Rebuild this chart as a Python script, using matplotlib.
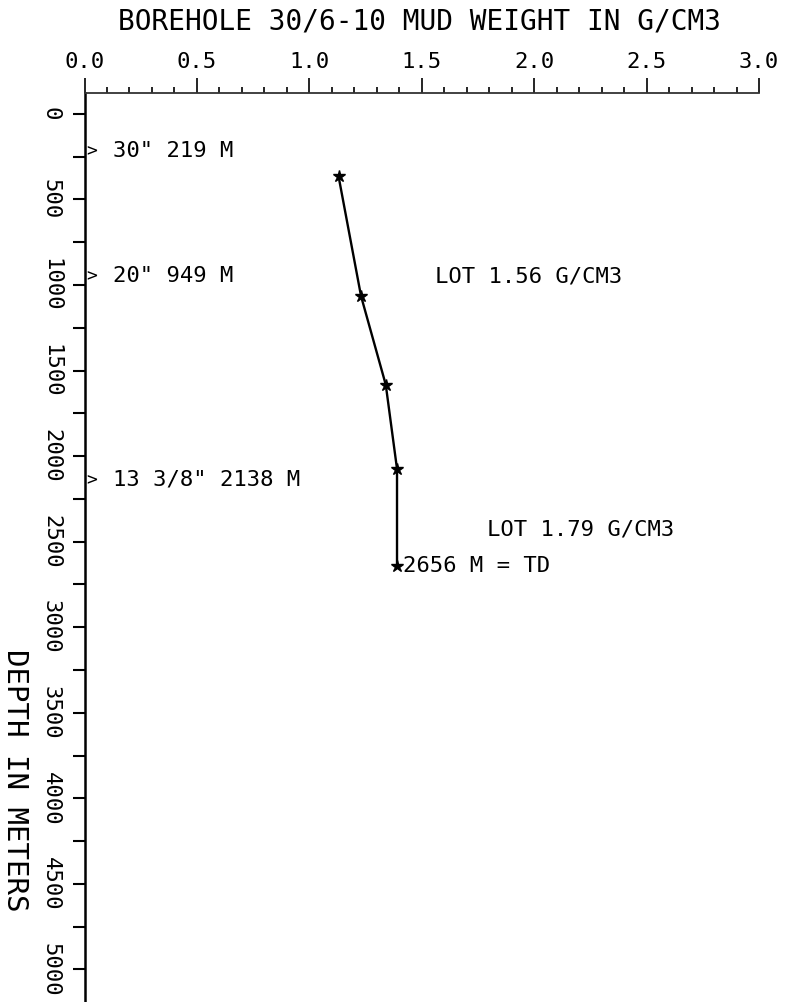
"""
Mud weight vs depth plot for borehole 30/6-10, plotter style.
"""

import matplotlib
matplotlib.use('Agg')
import matplotlib.pyplot as plt
from matplotlib.ticker import MultipleLocator, FormatStrFormatter

# mud weight readings (g/cm3) against depth (m)
mud_weight = [1.13, 1.23, 1.34, 1.39, 1.39]
depth = [365, 1065, 1583, 2075, 2645]

# casing shoes
casing_depth = [219, 949, 2138]
casing_label = ['30" 219 M', '20" 949 M', '13 3/8" 2138 M']

# leak-off tests
lot_weight = [1.56, 1.79]
lot_depth = [949, 2430]
lot_label = ['LOT 1.56 G/CM3', 'LOT 1.79 G/CM3']

td_label = '2656 M = TD'

plt.rcParams['font.family'] = ['DejaVu Sans Mono']

W, H = 787, 1002
fig = plt.figure(figsize=(W / 100, H / 100), dpi=100)
ax = fig.add_axes([84.5 / W, 0, (759 - 84.5) / W, 1 - 93 / H])

ax.set_xlim(0, 3)
ax.set_ylim(5190, -122)

ax.spines['right'].set_visible(False)
ax.spines['bottom'].set_visible(False)
ax.spines['top'].set_linewidth(1.3)
ax.spines['top'].set_color('#333333')
ax.spines['left'].set_linewidth(1.8)

ax.xaxis.tick_top()
ax.xaxis.set_major_locator(MultipleLocator(0.5))
ax.xaxis.set_minor_locator(MultipleLocator(0.1))
ax.xaxis.set_major_formatter(FormatStrFormatter('%.1f'))
ax.tick_params(axis='x', which='major', direction='out', length=11, width=1.2, pad=4, labelsize=16)
ax.tick_params(axis='x', which='minor', direction='out', length=4.5, width=1.2)

ax.yaxis.set_major_locator(MultipleLocator(500))
ax.yaxis.set_minor_locator(MultipleLocator(250))
ax.tick_params(axis='y', which='both', direction='out', length=9, width=1.5)
ax.tick_params(axis='y', which='major', pad=8, labelsize=16, labelrotation=270)
for lab in ax.get_yticklabels():
    lab.set_va('center')

ax.plot(mud_weight, depth, color='black', lw=1.7, marker='*', markersize=9)

# casing shoe markers on the depth axis
for d, lab in zip(casing_depth, casing_label):
    ax.text(0.006, d, '>', fontsize=13, ha='left', va='center')
    ax.text(0.125, d, lab, fontsize=16, ha='left', va='center')

for w, d, lab in zip(lot_weight, lot_depth, lot_label):
    ax.text(w, d, lab, fontsize=16, ha='left', va='center')

ax.annotate(td_label, (mud_weight[-1], depth[-1]), xytext=(4, 0), textcoords='offset points',
            fontsize=16, ha='left', va='center')

fig.text(419 / W, 1 - 22 / H, 'BOREHOLE 30/6-10 MUD WEIGHT IN G/CM3', fontsize=20,
         ha='center', va='center')
fig.text(15 / W, 1 - 780 / H, 'DEPTH IN METERS', fontsize=21, rotation=270,
         ha='center', va='center')

plt.savefig('out.png', dpi=100)
